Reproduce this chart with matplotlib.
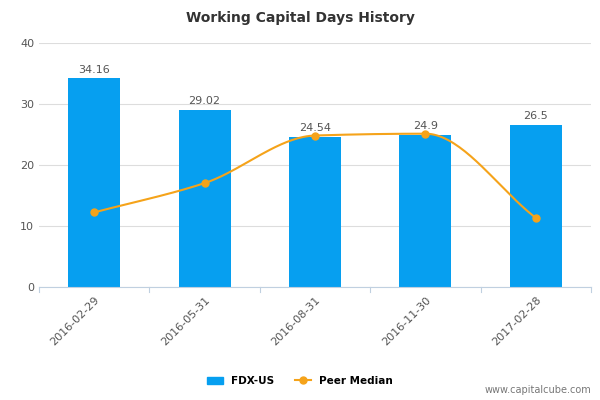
import numpy as np
import matplotlib
matplotlib.use("Agg")
import matplotlib.pyplot as plt
from matplotlib.lines import Line2D
from matplotlib.patches import Patch

# chart data
dates = ["2016-02-29", "2016-05-31", "2016-08-31", "2016-11-30", "2017-02-28"]
fdx = [34.16, 29.02, 24.54, 24.9, 26.5]
peer = [12.2, 17.0, 24.8, 25.1, 11.3]

barColor = "#069ff0"
lineColor = "#f5a31a"

# monotone cubic (Fritsch-Carlson) just for drawing the smooth curve
def smoothCurve(xs, ys, n=40):
    xs = np.asarray(xs, float); ys = np.asarray(ys, float)
    h = np.diff(xs); d = np.diff(ys) / h
    m = np.zeros_like(ys)
    m[0], m[-1] = d[0], d[-1]
    for i in range(1, len(ys) - 1):
        m[i] = 0 if d[i-1] * d[i] <= 0 else 2 / (1/d[i-1] + 1/d[i])
    outX, outY = [], []
    for i in range(len(h)):
        t = np.linspace(0, 1, n)
        h00 = 2*t**3 - 3*t**2 + 1; h10 = t**3 - 2*t**2 + t
        h01 = -2*t**3 + 3*t**2; h11 = t**3 - t**2
        outX.extend(xs[i] + t*h[i])
        outY.extend(h00*ys[i] + h10*h[i]*m[i] + h01*ys[i+1] + h11*h[i]*m[i+1])
    return outX, outY

fig = plt.figure(figsize=(6, 4), dpi=100)
ax = fig.add_axes([0.065, 0.283, 0.92, 0.61])
x = np.arange(len(dates))

ax.bar(x, fdx, width=0.47, color=barColor, zorder=2)
for xi, v in zip(x, fdx):
    ax.text(xi, v + 0.6, f"{v:g}", ha="center", va="bottom", fontsize=8, color="#555555")

cx, cy = smoothCurve(x, peer)
ax.plot(cx, cy, color=lineColor, lw=1.5, zorder=3)
ax.plot(x, peer, "o", color=lineColor, ms=5, zorder=4)

ax.set_xlim(-0.5, 4.5)
ax.set_ylim(0, 40)
ax.set_yticks([0, 10, 20, 30, 40])
ax.set_xticks(x)
ax.set_xticklabels(dates, rotation=45, ha="right", rotation_mode="anchor", fontsize=8, color="#555555")
ax.tick_params(axis="y", length=0, labelsize=8, labelcolor="#555555")
ax.tick_params(axis="x", length=0, pad=6)
ax.grid(axis="y", color="#dddddd", lw=0.8, zorder=0)
for s in ["top", "right", "left"]:
    ax.spines[s].set_visible(False)
ax.spines["bottom"].set_color("#c0d0e0")
for b in np.arange(-0.5, 5, 1):
    ax.plot([b, b], [0, -0.8], color="#c0d0e0", lw=0.8, clip_on=False)

fig.text(0.5, 0.955, "Working Capital Days History", ha="center", va="center",
         fontsize=10, fontweight="bold", color="#333333")

handles = [Patch(color=barColor), Line2D([], [], color=lineColor, marker="o", ms=5)]
fig.legend(handles, ["FDX-US", "Peer Median"], loc="center", bbox_to_anchor=(0.5, 0.048),
           ncol=2, frameon=False, prop={"size": 7.5, "weight": "bold"}, handlelength=1.5,
           columnspacing=2)
fig.text(0.985, 0.018, "www.capitalcube.com", ha="right", fontsize=7, color="#777777")

fig.savefig("out.png")
